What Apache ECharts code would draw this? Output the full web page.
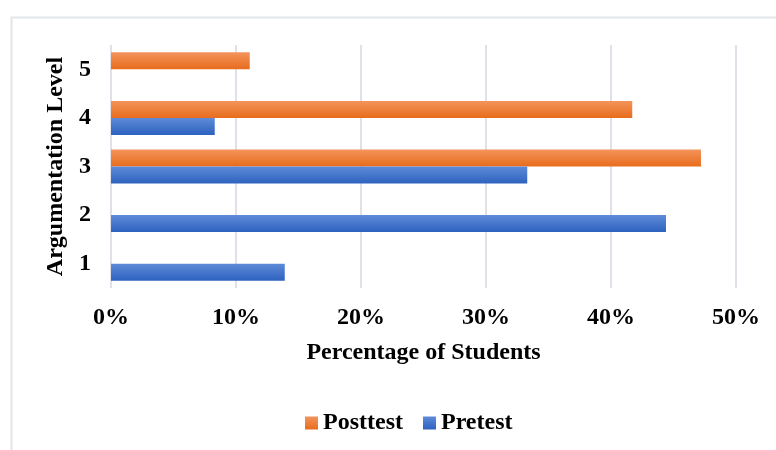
<!DOCTYPE html>
<html>
<head>
<meta charset="utf-8">
<script src="https://cdn.jsdelivr.net/npm/echarts@6/dist/echarts.min.js"></script>
<style>
    html, body { margin: 0; padding: 0; background: #fff; }
    #chart { width: 776px; height: 450px; }
</style>
</head>
<body>
<div id="chart"></div>
<script>
// argumentation levels, bottom to top
let levels = ['1', '2', '3', '4', '5']
let xTicks = [0, 10, 20, 30, 40, 50]
// percentage of students at each level
let pretest = [13.9, 44.4, 33.3, 8.3, 0]
let posttest = [0, 0, 47.2, 41.7, 11.1]

let font = 'Liberation Serif, Times New Roman, serif'

function grad(top, bottom) {
    return new echarts.graphic.LinearGradient(0, 0, 0, 1, [
        {offset: 0, color: top},
        {offset: 1, color: bottom}
    ])
}

let chart = echarts.init(document.getElementById('chart'))
chart.setOption({
    backgroundColor: '#fff',
    animation: false,
    // frame of the original figure (only top and left edges show)
    graphic: [{
        type: 'rect',
        left: 9, top: 15,
        shape: {width: 820, height: 500},
        style: {fill: 'none', stroke: '#E2E5EA', lineWidth: 2},
        silent: true
    }],
    grid: {left: 111, right: 40, top: 45, bottom: 162},
    legend: {
        data: ['Posttest', 'Pretest'],
        left: 300,
        top: 406,
        icon: 'rect',
        itemWidth: 13,
        itemHeight: 13,
        itemGap: 20,
        textStyle: {fontFamily: font, fontWeight: 'bold', fontSize: 24, color: '#000'}
    },
    xAxis: {
        type: 'value',
        min: xTicks[0],
        max: xTicks[xTicks.length - 1],
        interval: xTicks[1] - xTicks[0],
        name: 'Percentage of Students',
        nameLocation: 'middle',
        nameGap: 53,
        nameTextStyle: {fontFamily: font, fontWeight: 'bold', fontSize: 24, color: '#000'},
        axisLine: {show: false},
        axisTick: {show: false},
        axisLabel: {
            formatter: '{value}%',
            margin: 18,
            fontFamily: font, fontWeight: 'bold', fontSize: 24, color: '#000'
        },
        splitLine: {lineStyle: {color: '#DEE2E8', width: 2}}
    },
    yAxis: {
        type: 'category',
        data: levels,
        name: 'Argumentation Level',
        nameLocation: 'middle',
        nameRotate: 90,
        nameGap: 42,
        nameTextStyle: {fontFamily: font, fontWeight: 'bold', fontSize: 24, color: '#000'},
        axisLine: {show: false},
        axisTick: {show: false},
        axisLabel: {margin: 20, fontFamily: font, fontWeight: 'bold', fontSize: 24, color: '#000'}
    },
    // first series sits on top inside each band
    series: [
        {
            name: 'Posttest',
            type: 'bar',
            data: posttest,
            barWidth: 17,
            barGap: '0%',
            itemStyle: {color: grad('#F3945C', '#E86C1C')}
        },
        {
            name: 'Pretest',
            type: 'bar',
            data: pretest,
            barWidth: 17,
            barGap: '0%',
            itemStyle: {color: grad('#5F8BD8', '#2D62BF')}
        }
    ]
})
</script>
</body>
</html>
